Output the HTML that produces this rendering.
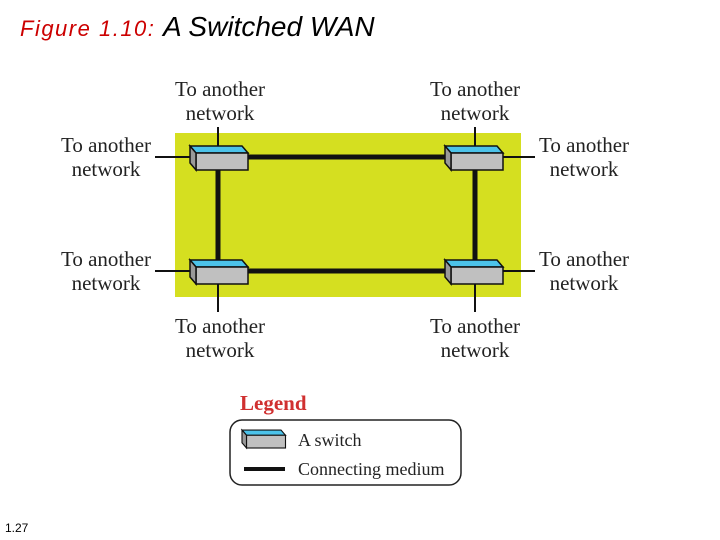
<!DOCTYPE html>
<html><head><style>
body{margin:0;width:720px;height:540px;background:#fff;overflow:hidden;position:relative}
.t{position:absolute;font-family:"Liberation Serif",serif;font-size:21px;color:#222;text-align:center;line-height:24px;width:120px}
</style></head><body>
<div style="position:absolute;left:20px;top:11px;font-family:'Liberation Sans',sans-serif;font-style:italic;font-size:28px;color:#000;white-space:nowrap"><span style="color:#c00;font-size:22px;letter-spacing:1.5px">Figure 1.10: </span>A Switched WAN</div>
<div style="position:absolute;left:5px;top:521px;font-family:'Liberation Sans',sans-serif;font-size:12px">1.27</div>
<svg width="720" height="540" style="position:absolute;left:0;top:0">
<defs><g id="sw">
<polygon points="0,0 52,0 58,7 6,7" fill="#4cc3ea" stroke="#111" stroke-width="1.5"/>
<rect x="6" y="7" width="52" height="17" fill="#c0c0c0" stroke="#111" stroke-width="1.5"/>
<polygon points="0,0 6,7 6,24 0,17" fill="#999" stroke="#111" stroke-width="1.5"/>
</g></defs>
<rect x="175" y="133" width="346" height="164" fill="#d5df20"/>
<g stroke="#111" stroke-width="2">
<line x1="218" y1="127" x2="218" y2="146"/><line x1="475" y1="127" x2="475" y2="146"/>
<line x1="155" y1="157" x2="190" y2="157"/><line x1="503" y1="157" x2="535" y2="157"/>
<line x1="155" y1="271" x2="190" y2="271"/><line x1="503" y1="271" x2="535" y2="271"/>
<line x1="218" y1="284" x2="218" y2="312"/><line x1="475" y1="284" x2="475" y2="312"/>
</g>
<g stroke="#111" stroke-width="5">
<line x1="248" y1="157" x2="445" y2="157"/><line x1="248" y1="271" x2="445" y2="271"/>
<line x1="218" y1="170" x2="218" y2="260"/><line x1="475" y1="170" x2="475" y2="260"/>
</g>
<use href="#sw" x="190" y="146"/><use href="#sw" x="445" y="146"/>
<use href="#sw" x="190" y="260"/><use href="#sw" x="445" y="260"/>
<rect x="230" y="420" width="231" height="65" rx="12" fill="#fff" stroke="#222" stroke-width="1.5"/>
<g transform="translate(242,430) scale(0.75)"><use href="#sw"/></g>
<line x1="244" y1="469" x2="285" y2="469" stroke="#111" stroke-width="4"/>
<text x="298" y="446" font-family="Liberation Serif,serif" font-size="18" fill="#222">A switch</text>
<text x="298" y="475" font-family="Liberation Serif,serif" font-size="18" fill="#222">Connecting medium</text>
<text x="240" y="410" font-family="Liberation Serif,serif" font-size="21" font-weight="bold" fill="#d03030">Legend</text>
</svg>
<div class="t" style="left:160px;top:77px">To another<br>network</div>
<div class="t" style="left:415px;top:77px">To another<br>network</div>
<div class="t" style="left:46px;top:133px">To another<br>network</div>
<div class="t" style="left:524px;top:133px">To another<br>network</div>
<div class="t" style="left:46px;top:247px">To another<br>network</div>
<div class="t" style="left:524px;top:247px">To another<br>network</div>
<div class="t" style="left:160px;top:314px">To another<br>network</div>
<div class="t" style="left:415px;top:314px">To another<br>network</div>
</body></html>
